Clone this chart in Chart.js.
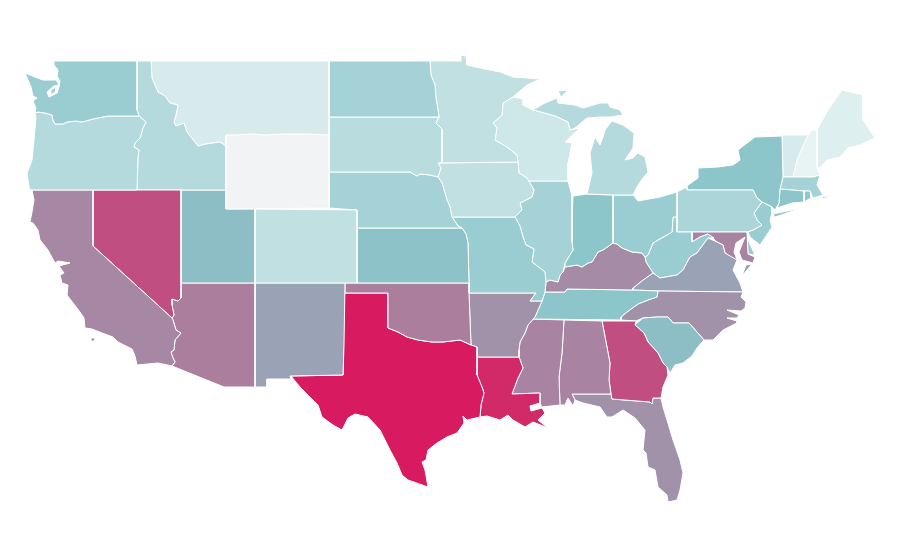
<!DOCTYPE html>
<html>
<head>
<meta charset="utf-8">
<title>US states</title>
<script src="https://cdn.jsdelivr.net/npm/chart.js@4"></script>
<style>
  html, body { margin: 0; background: #fff; }
  #mapa { display: block; }
</style>
</head>
<body>
<canvas id="mapa" width="900" height="560"></canvas>
<script>
// --- DATA: one value per state, outlines in map units ---
const stateNames = ['WA','OR','CA','NV','ID','MT','WY','UT','AZ','CO','NM','ND','SD','NE','KS','OK','TX','MN','IA','MO','AR','LA','WI','IL','MI','IN','OH','KY','TN','MS','AL','GA','FL','SC','NC','VA','WV','MD','DE','PA','NJ','NY','CT','RI','MA','VT','NH','ME'];
const stateValues = [43,32,68,85,32,17,null,52,71,27,60,39,30,39,51,71,100,27,27,43,65,96,21,39,32,49,43,67,49,69,69,85,65,52,65,60,43,69,43,36,43,49,49,47,39,17,10,14];

const waOutline = [[54,61],[137,61],[137,110],[139,116],[108,116],[93,119],[82,122],[76,121],[67,122],[63,124],[55,124],[53,120],[52,115],[45,113],[38,112],[35,113],[36,108],[33,101],[37,98],[33,96],[31,87],[28,80],[25,73],[30,75],[35,77],[43,80],[56,80],[59,85],[54,86],[47,92],[49,97],[57,93],[59,87],[60,81],[57,76],[58,70],[54,65]];
const waIslandOutline = [[51,90],[56,87],[56,91],[51,95]];
const orOutline = [[35,113],[38,112],[45,113],[52,115],[53,120],[55,124],[63,124],[67,122],[76,121],[82,122],[93,119],[108,116],[139,116],[146,122],[143,128],[140,138],[135,143],[134,147],[139,150],[138,157],[137,190],[30,190],[29,187],[27,173],[32,160],[34,140],[36,118]];
const caOutline = [[32,190],[93,190],[93,246],[172,318],[173,320],[176,330],[181,333],[175,340],[174,350],[171,352],[173,358],[175,362],[172,366],[158,363],[137,365],[135,356],[132,349],[118,342],[113,337],[102,333],[92,329],[85,328],[84,318],[80,312],[67,295],[68,285],[62,283],[60,275],[64,273],[59,266],[70,263],[58,261],[55,263],[48,250],[40,240],[38,230],[33,223],[30,222],[32,212],[34,200]];
const caIslandOutline = [[91,338],[95,338],[95,341],[91,341]];
const nvOutline = [[93,190],[181,190],[181,298],[178,301],[172,299],[172,305],[174,315],[172,318],[93,246]];
const idOutline = [[137,61],[151,61],[152,78],[155,85],[158,92],[165,96],[170,103],[178,105],[176,115],[174,122],[176,126],[184,123],[187,132],[191,137],[198,146],[206,144],[220,142],[226,146],[226,190],[137,190],[138,157],[139,150],[134,147],[135,143],[140,138],[143,128],[146,122],[139,116],[137,110]];
const mtOutline = [[151,61],[329,61],[329,135],[305,134],[284,134],[265,135],[252,134],[235,135],[226,135],[226,146],[220,142],[206,144],[198,146],[191,137],[187,132],[184,123],[176,126],[174,122],[176,115],[178,105],[170,103],[165,96],[158,92],[155,85],[152,78]];
const wyOutline = [[226,135],[235,135],[252,134],[265,135],[284,134],[305,134],[329,135],[329,208],[226,209]];
const utOutline = [[181,190],[226,190],[226,209],[255,209],[255,283],[181,283]];
const azOutline = [[181,283],[255,283],[255,387],[224,387],[172,366],[175,362],[173,358],[171,352],[174,350],[175,340],[181,333],[176,330],[173,320],[172,318],[174,315],[172,305],[172,299],[178,301],[181,298]];
const coOutline = [[255,209],[357,210],[357,283],[255,283]];
const nmOutline = [[255,283],[345,283],[344,345],[343,375],[290,376],[291,379],[267,379],[267,387],[255,387]];
const ndOutline = [[329,61],[430,61],[431,75],[435,85],[436,98],[438,110],[439,117],[329,117]];
const sdOutline = [[329,117],[439,117],[436,123],[442,129],[442,162],[438,163],[441,168],[438,177],[430,175],[420,174],[417,176],[410,172],[347,172],[329,172]];
const neOutline = [[329,172],[347,172],[410,172],[417,176],[420,174],[430,175],[438,177],[442,183],[447,200],[450,207],[452,217],[458,226],[462,228],[357,228],[357,210],[329,208]];
const ksOutline = [[357,228],[462,228],[466,234],[468,243],[469,283],[357,283]];
const okOutline = [[345,283],[469,283],[469,293],[471,345],[460,340],[443,342],[432,342],[418,340],[407,337],[398,332],[388,328],[388,293],[345,293]];
const txOutline = [[344,293],[388,293],[388,328],[398,332],[407,337],[418,340],[432,342],[443,342],[460,340],[471,345],[477,347],[477,375],[482,387],[484,393],[481,405],[480,417],[467,420],[463,416],[464,423],[457,433],[447,437],[437,443],[428,450],[426,460],[422,462],[425,470],[428,487],[408,480],[402,475],[397,463],[390,450],[380,430],[368,417],[355,414],[348,418],[342,430],[333,425],[322,417],[318,405],[310,397],[300,387],[291,376],[343,375]];
const mnOutline = [[430,61],[461,61],[461,55],[466,56],[467,65],[480,68],[500,72],[513,77],[540,79],[527,85],[513,97],[503,103],[502,115],[493,123],[497,128],[495,140],[507,147],[517,155],[518,162],[438,163],[442,162],[442,129],[436,123],[439,117],[438,110],[436,98],[435,85],[431,75]];
const iaOutline = [[438,163],[518,162],[519,173],[527,178],[534,190],[532,197],[520,203],[522,210],[515,217],[452,217],[450,207],[447,200],[442,183],[438,177],[441,168]];
const moOutline = [[452,217],[515,217],[520,226],[523,237],[526,245],[534,249],[532,262],[545,272],[546,282],[545,292],[542,301],[530,301],[536,293],[469,293],[469,283],[468,243],[466,234],[462,228],[458,226]];
const arOutline = [[469,293],[536,293],[530,301],[542,301],[535,317],[528,325],[525,333],[520,342],[519,350],[519,357],[477,357],[477,347],[471,345]];
const laOutline = [[477,357],[519,357],[523,368],[518,378],[512,394],[540,393],[540,403],[530,406],[531,411],[542,408],[545,413],[538,420],[548,428],[533,422],[525,427],[513,420],[508,415],[500,420],[487,416],[480,417],[481,405],[484,393],[482,387],[477,375]];
const wiOutline = [[503,103],[513,97],[523,99],[523,105],[533,110],[555,116],[568,122],[570,130],[580,128],[565,142],[572,143],[568,163],[568,181],[527,181],[527,178],[519,173],[518,162],[517,155],[507,147],[495,140],[497,128],[493,123],[502,115]];
const ilOutline = [[527,181],[568,181],[572,196],[572,220],[572,242],[573,250],[565,263],[563,272],[560,275],[558,282],[550,280],[546,282],[545,272],[532,262],[534,249],[526,245],[523,237],[520,226],[515,217],[522,210],[520,203],[532,197],[534,190],[527,178]];
const miUpperOutline = [[533,110],[545,103],[557,98],[558,103],[575,105],[583,108],[600,103],[608,103],[610,107],[620,110],[623,115],[610,117],[600,117],[587,118],[575,128],[570,130],[568,122],[555,116]];
const miLowerOutline = [[587,194],[592,173],[590,153],[595,137],[600,145],[603,137],[605,130],[612,121],[623,125],[634,133],[633,148],[625,160],[633,158],[638,153],[645,157],[648,172],[643,178],[637,187],[633,195],[613,195]];
const miKeweenawOutline = [[558,91],[568,90],[561,97]];
const inOutline = [[573,196],[587,194],[613,195],[613,243],[603,250],[598,252],[592,262],[588,263],[582,267],[577,265],[565,267],[565,263],[573,250],[572,242],[572,220]];
const ohOutline = [[613,195],[633,195],[638,201],[660,197],[677,192],[677,217],[673,217],[672,232],[658,240],[653,243],[648,255],[645,257],[642,253],[632,252],[622,248],[617,244],[613,243]];
const kyOutline = [[550,280],[558,282],[560,275],[563,272],[565,267],[577,265],[582,267],[588,263],[592,262],[598,252],[603,250],[613,243],[617,244],[622,248],[632,252],[642,253],[645,257],[646,262],[653,273],[643,280],[633,288],[633,290],[567,289],[565,292],[545,292],[546,282]];
const tnOutline = [[545,292],[565,292],[567,289],[633,290],[658,291],[657,297],[648,300],[638,304],[627,312],[621,317],[621,320],[533,319],[535,317],[542,301]];
const msOutline = [[533,319],[564,320],[562,353],[559,377],[560,405],[542,407],[540,403],[540,393],[512,394],[518,378],[523,368],[519,357],[519,350],[520,342],[525,333],[528,325]];
const alOutline = [[564,320],[602,321],[610,363],[609,380],[611,394],[572,394],[575,400],[573,406],[568,398],[565,405],[560,405],[559,377],[562,353]];
const gaOutline = [[602,321],[636,321],[635,325],[644,333],[648,342],[658,353],[663,363],[667,367],[668,375],[663,387],[661,398],[653,398],[652,404],[650,402],[612,399],[611,394],[609,380],[610,363]];
const flOutline = [[572,394],[611,394],[612,399],[650,402],[652,404],[653,398],[661,398],[663,407],[667,420],[673,440],[680,460],[683,473],[680,490],[677,500],[668,502],[667,495],[658,487],[655,470],[648,467],[646,453],[643,450],[645,430],[635,418],[623,410],[612,417],[607,417],[600,407],[583,403],[575,400]];
const scOutline = [[635,325],[643,318],[657,317],[668,317],[673,323],[689,323],[704,340],[697,348],[692,356],[683,363],[675,365],[670,373],[667,367],[663,363],[658,353],[648,342],[644,333]];
const ncOutline = [[658,291],[743,292],[741,297],[746,302],[745,308],[741,311],[727,310],[739,315],[737,318],[727,318],[737,321],[737,323],[723,330],[713,340],[704,340],[689,323],[673,323],[668,317],[657,317],[643,318],[636,321],[621,320],[621,317],[627,312],[638,304],[648,300],[657,297]];
const vaOutline = [[633,288],[643,280],[653,273],[660,278],[677,275],[683,270],[690,257],[697,253],[708,238],[717,242],[723,245],[725,253],[737,260],[733,270],[740,283],[743,292],[658,291],[633,290]];
const vaShoreOutline = [[752,264],[746,265],[742,276]];
const wvOutline = [[677,217],[677,232],[692,232],[692,242],[700,237],[708,234],[714,238],[708,238],[697,253],[690,257],[683,270],[677,275],[660,278],[653,273],[646,262],[645,257],[648,255],[653,243],[658,240],[672,232],[673,217]];
const mdOutline = [[692,232],[747,232],[748,254],[755,257],[753,263],[742,260],[739,252],[745,237],[736,243],[734,252],[738,262],[725,253],[723,245],[717,242],[708,234],[700,237],[692,242]];
const deOutline = [[747,232],[748,240],[755,255],[748,254]];
const paOutline = [[677,192],[687,187],[687,190],[753,190],[757,198],[762,202],[754,213],[757,220],[762,225],[753,230],[747,232],[677,232]];
const njOutline = [[762,202],[772,207],[772,213],[770,220],[772,227],[760,245],[750,237],[748,232],[753,230],[762,225],[757,220],[754,213]];
const nyOutline = [[687,190],[687,186],[698,178],[698,168],[718,167],[733,165],[740,160],[738,150],[755,137],[782,136],[783,177],[780,189],[779,203],[775,210],[772,207],[762,202],[757,198],[753,190]];
const longIslandOutline = [[773,214],[802,208],[787,213],[775,217]];
const ctOutline = [[780,189],[804,191],[804,202],[792,203],[777,208],[779,203]];
const riOutline = [[804,191],[810,191],[811,198],[804,202]];
const maOutline = [[783,177],[813,177],[820,175],[817,185],[823,195],[813,198],[810,191],[804,191],[780,189]];
const nantucketOutline = [[822,197],[831,195],[823,199]];
const vtOutline = [[782,135],[808,135],[802,148],[797,160],[793,177],[783,177]];
const nhOutline = [[808,135],[812,130],[817,130],[817,167],[820,175],[813,177],[793,177],[797,160],[802,148]];
const meOutline = [[817,130],[828,110],[842,90],[863,95],[863,120],[875,138],[860,145],[848,148],[840,157],[827,160],[820,168],[817,167]];

// Each state with its pieces, same order as stateNames
const statePieces = [[waOutline,waIslandOutline],[orOutline],[caOutline,caIslandOutline],[nvOutline],[idOutline],[mtOutline],[wyOutline],[utOutline],[azOutline],[coOutline],[nmOutline],[ndOutline],[sdOutline],[neOutline],[ksOutline],[okOutline],[txOutline],[mnOutline],[iaOutline],[moOutline],[arOutline],[laOutline],[wiOutline],[ilOutline],[miUpperOutline,miLowerOutline,miKeweenawOutline],[inOutline],[ohOutline],[kyOutline],[tnOutline],[msOutline],[alOutline],[gaOutline],[flOutline],[scOutline],[ncOutline],[vaOutline,vaShoreOutline],[wvOutline],[mdOutline],[deOutline],[paOutline],[njOutline],[nyOutline,longIslandOutline],[ctOutline],[riOutline],[maOutline,nantucketOutline],[vtOutline],[nhOutline],[meOutline]];

// --- Colour scale: white -> teal -> crimson ---
const colorLow = [255, 255, 255];
const colorMid = [138, 197, 202];
const colorHigh = [216, 27, 96];
const colorNoData = '#f2f3f5';

function colorDeValor(v) {
    if (v === null) return colorNoData;
    const desde = v < 50 ? colorLow : colorMid;
    const hasta = v < 50 ? colorMid : colorHigh;
    const t = v < 50 ? v / 50 : (v - 50) / 50;
    const rgb = desde.map((c, i) => Math.round(c + (hasta[i] - c) * t));
    return `rgb(${rgb.join(',')})`;
}

// --- One closed filled line per state piece ---
const datasets = [];
stateNames.forEach((nombre, i) => {
    statePieces[i].forEach(pieza => {
        const puntos = pieza.concat([pieza[0]]).map(p => ({ x: p[0], y: p[1] }));
        datasets.push({
            label: nombre,
            data: puntos,
            showLine: true,
            fill: 'shape',
            tension: 0,
            pointRadius: 0,
            pointHoverRadius: 0,
            borderWidth: 1,
            borderColor: '#ffffff',
            borderJoinStyle: 'round',
            backgroundColor: colorDeValor(stateValues[i])
        });
    });
});

new Chart(document.getElementById('mapa').getContext('2d'), {
    type: 'scatter',
    data: { datasets: datasets },
    options: {
        responsive: false,
        animation: false,
        events: [],
        layout: { padding: 0 },
        scales: {
            x: { type: 'linear', min: 0, max: 900, display: false },
            y: { type: 'linear', min: 0, max: 560, reverse: true, display: false }
        },
        plugins: {
            legend: { display: false },
            tooltip: { enabled: false }
        }
    }
});
</script>
</body>
</html>
